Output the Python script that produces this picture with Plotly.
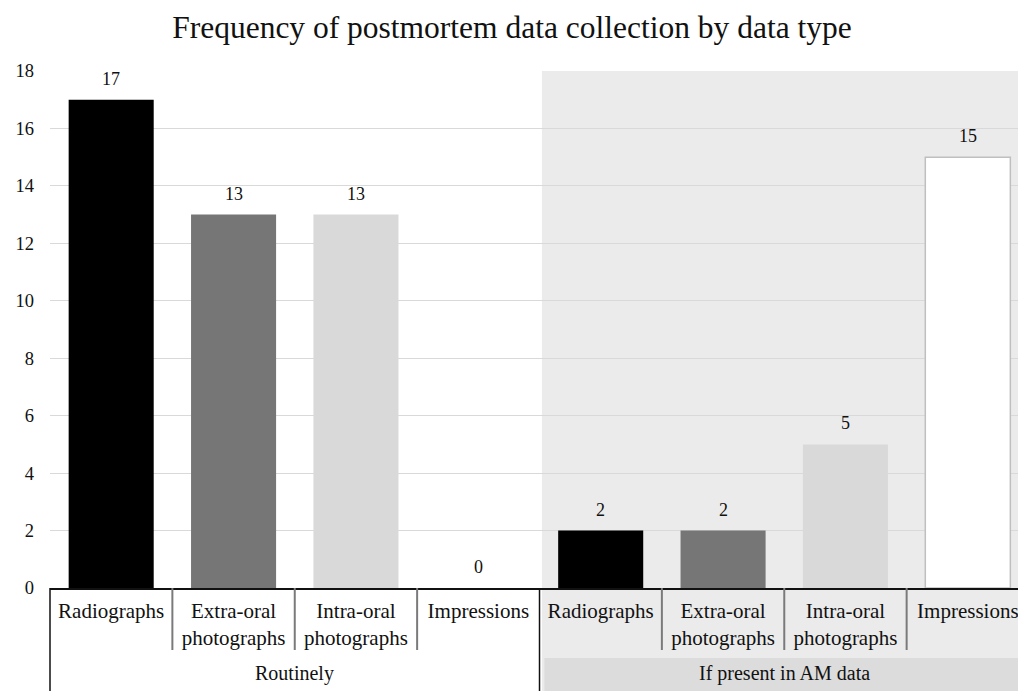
import plotly.graph_objects as go

# Data: postmortem data collection frequency, two collection conditions
groups = ["Routinely", "If present in AM data"]
data_types = ["Radiographs", "Extra-oral<br>photographs", "Intra-oral<br>photographs", "Impressions"]
routinely = [17, 13, 13, 0]
if_present_am = [2, 2, 5, 15]

type_fills = ["#000000", "#767676", "#d9d9d9", "#ffffff"]
type_edges = ["#000000", "#767676", "#d9d9d9", "#bfbfbf"]
type_edge_widths = [0, 0, 0, 1.5]

y_ticks = [0, 2, 4, 6, 8, 10, 12, 14, 16, 18]

SERIF = "Liberation Serif, Times New Roman, serif"
TXT = "#111111"

values = routinely + if_present_am
n_types = len(data_types)
positions = list(range(len(values)))
labels = data_types * len(groups)
# an empty (zero-height) bar gets no outline
edge_widths = [w if v > 0 else 0 for w, v in zip(type_edge_widths * len(groups), values)]

fig = go.Figure()
fig.add_trace(go.Bar(
    x=positions,
    y=values,
    width=0.695,
    marker=dict(
        color=type_fills * len(groups),
        line=dict(color=type_edges * len(groups), width=edge_widths),
    ),
    hoverinfo="skip",
    showlegend=False,
))

# value labels above each bar
for xp, v in zip(positions, values):
    fig.add_annotation(
        x=xp, y=v, text=str(v), showarrow=False, xref="x", yref="y",
        yanchor="middle", yshift=21, font=dict(family=SERIF, size=18, color=TXT),
    )

plot_h = 691 - 71 - 103
def py(pix):
    """pixel offset below the x axis -> paper y"""
    return -pix / plot_h

shapes = []
# shaded band for the second group (plot + axis-label area)
shapes.append(dict(type="rect", xref="x", yref="paper", x0=n_types - 0.48, x1=2 * n_types - 0.5,
                   y0=py(140), y1=1, fillcolor="#ebebeb", line=dict(width=0), layer="below"))
# darker header cell behind the second group name
shapes.append(dict(type="rect", xref="x", yref="paper", x0=n_types - 0.46, x1=2 * n_types - 0.5,
                   y0=py(140), y1=py(70), fillcolor="#dcdcdc", line=dict(width=0), layer="below"))
# short separators between data types
for g in range(len(groups)):
    for k in range(1, n_types):
        xs = g * n_types + k - 0.5
        shapes.append(dict(type="line", xref="x", yref="paper", x0=xs, x1=xs,
                           y0=0, y1=py(62), line=dict(color="#7a7a7a", width=2)))
# full-height separators between groups
shapes.append(dict(type="line", xref="paper", yref="paper", x0=0, x1=0,
                   y0=0, y1=py(140), line=dict(color="#111111", width=1.5)))
shapes.append(dict(type="line", xref="x", yref="paper", x0=n_types - 0.5, x1=n_types - 0.5,
                   y0=0, y1=py(140), line=dict(color="#111111", width=1.5)))
fig.update_layout(shapes=shapes)

# group names
for g, name in enumerate(groups):
    fig.add_annotation(
        x=g * n_types + (n_types - 1) / 2, y=py(85), xref="x", yref="paper",
        text=name, showarrow=False, yanchor="middle",
        font=dict(family=SERIF, size=20, color=TXT),
    )

fig.update_layout(
    width=1018, height=691,
    margin=dict(l=50, r=0, t=71, b=103, pad=0),
    paper_bgcolor="#ffffff", plot_bgcolor="rgba(0,0,0,0)",
    title=dict(
        text="Frequency of postmortem data collection by data type",
        font=dict(family=SERIF, size=31.5, color=TXT),
        x=512 / 1018, xref="container", xanchor="center",
        y=1 - 27 / 691, yref="container", yanchor="middle",
    ),
    bargap=0.3,
)
fig.update_xaxes(
    range=[-0.5, 7.41], tickmode="array", tickvals=positions, ticktext=labels,
    showgrid=False, zeroline=False, showline=True, linecolor="#111111", linewidth=1.5,
    ticks="", tickfont=dict(family=SERIF, size=21, color=TXT), tickangle=0,
    ticklabelstandoff=3, ticklabeloverflow="allow",
)
fig.update_yaxes(
    range=[0, 18], tickmode="array", tickvals=y_ticks,
    showgrid=True, gridcolor="#d9d9d9", gridwidth=1, zeroline=False, showline=False,
    ticks="", tickfont=dict(family=SERIF, size=18.5, color=TXT), ticklabelstandoff=15,
)

fig.write_html("out.html")
